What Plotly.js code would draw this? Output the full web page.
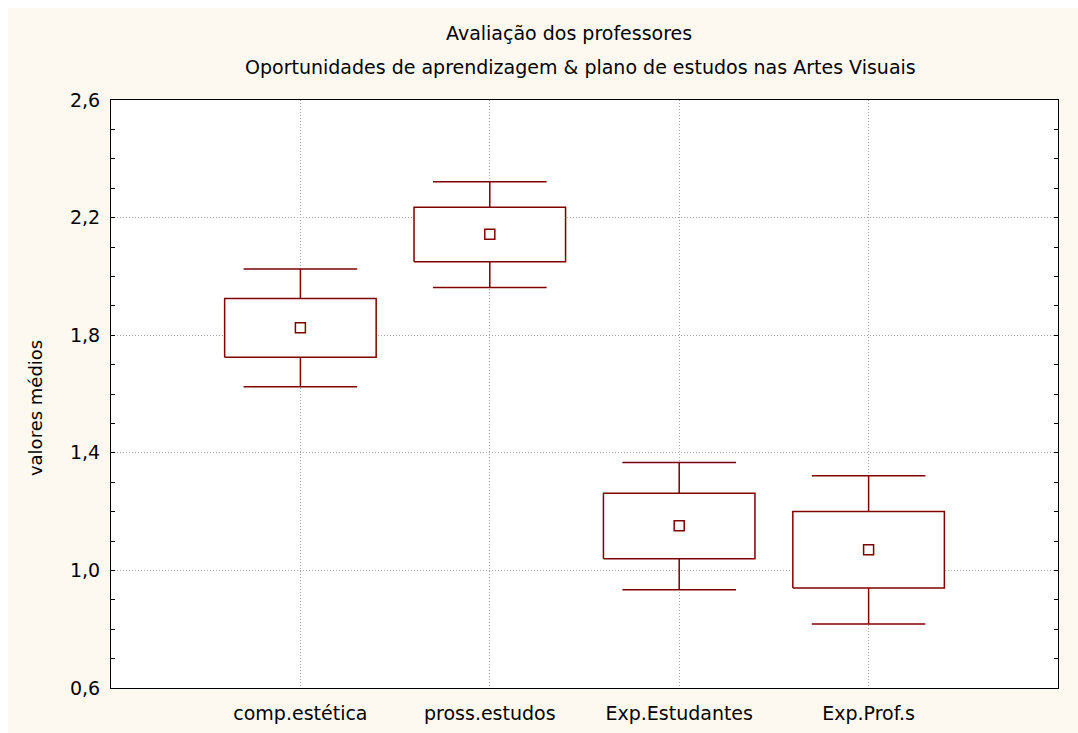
<!DOCTYPE html>
<html>
<head>
<meta charset="utf-8">
<script src="https://cdn.plot.ly/plotly-3.0.1.min.js"></script>
<style>
html,body{margin:0;padding:0;background:#ffffff;width:1078px;height:733px;overflow:hidden;}
#chart{position:absolute;left:8px;top:8px;width:1070px;height:725px;}
</style>
</head>
<body>
<div id="chart"></div>
<script>
const categories = ['comp.estética', 'pross.estudos', 'Exp.Estudantes', 'Exp.Prof.s'];
const means      = [1.825, 2.143, 1.152, 1.070];
const boxLow     = [1.725, 2.050, 1.040, 0.940];
const boxHigh    = [1.925, 2.235, 1.262, 1.200];
const whiskLow   = [1.625, 1.962, 0.934, 0.818];
const whiskHigh  = [2.025, 2.322, 1.367, 1.322];
const yTickVals  = [0.6, 1.0, 1.4, 1.8, 2.2, 2.6];
const yTickText  = ['0,6', '1,0', '1,4', '1,8', '2,2', '2,6'];

const red = '#800000';
const font = 'DejaVu Sans, Liberation Sans, Arial, sans-serif';
const boxHalf = 0.4;
const capHalf = 0.3;
const catIdx = categories.map((c, i) => i);

const traces = [];
categories.forEach((c, i) => {
  traces.push({
    type: 'scatter', mode: 'lines',
    x: [i, i, null, i - capHalf, i + capHalf, null, i, i, null, i - capHalf, i + capHalf],
    y: [boxHigh[i], whiskHigh[i], null, whiskHigh[i], whiskHigh[i], null,
        boxLow[i], whiskLow[i], null, whiskLow[i], whiskLow[i]],
    line: {color: red, width: 1.5},
    connectgaps: false,
    hoverinfo: 'skip', showlegend: false
  });
  traces.push({
    type: 'scatter', mode: 'lines',
    x: [i - boxHalf, i + boxHalf, i + boxHalf, i - boxHalf, i - boxHalf],
    y: [boxLow[i], boxLow[i], boxHigh[i], boxHigh[i], boxLow[i]],
    fill: 'toself', fillcolor: '#ffffff',
    line: {color: red, width: 1.5},
    hoverinfo: 'skip', showlegend: false
  });
});

traces.push({
  type: 'scatter',
  mode: 'markers',
  x: catIdx,
  y: means,
  marker: {symbol: 'square-open', size: 10, color: red, line: {color: red, width: 1.5}},
  hoverinfo: 'skip',
  showlegend: false
});

const layout = {
  width: 1070,
  height: 725,
  margin: {l: 103, r: 20, t: 92, b: 45},
  paper_bgcolor: '#fdf9f0',
  plot_bgcolor: '#ffffff',
  font: {family: font, size: 19, color: '#000000'},
  showlegend: false,
  xaxis: {
    range: [-1, 4],
    tickvals: catIdx,
    ticktext: categories,
    showgrid: true,
    gridcolor: '#a8a8a8',
    gridwidth: 1,
    griddash: '1px,2px',
    showline: true,
    linecolor: '#000000',
    linewidth: 1,
    mirror: true,
    ticks: '',
    tickfont: {family: font, size: 19, color: '#000000'},
    ticklabelstandoff: 8,
    zeroline: false,
    fixedrange: true
  },
  yaxis: {
    range: [0.6, 2.6],
    tickvals: yTickVals,
    ticktext: yTickText,
    showgrid: true,
    gridcolor: '#a8a8a8',
    gridwidth: 1,
    griddash: '1px,2px',
    showline: true,
    linecolor: '#000000',
    linewidth: 1,
    mirror: 'ticks',
    ticks: 'inside',
    ticklen: 4,
    tickcolor: '#000000',
    minor: {dtick: 0.1, tick0: 0.6, ticks: 'inside', ticklen: 4, tickcolor: '#000000', showgrid: false},
    tickfont: {family: font, size: 19, color: '#000000'},
    ticklabelstandoff: 6,
    zeroline: false,
    fixedrange: true
  },
  annotations: [
    {text: 'Avaliação dos professores', xref: 'paper', yref: 'paper', x: 0.4836, y: 1.114,
     xanchor: 'center', yanchor: 'middle', showarrow: false, font: {family: font, size: 19, color: '#000000'}},
    {text: 'Oportunidades de aprendizagem &amp; plano de estudos nas Artes Visuais', xref: 'paper', yref: 'paper', x: 0.4963, y: 1.056,
     xanchor: 'center', yanchor: 'middle', showarrow: false, font: {family: font, size: 19, color: '#000000'}},
    {text: 'valores médios', xref: 'paper', yref: 'paper', x: -0.0803, y: 0.476, textangle: -90,
     xanchor: 'center', yanchor: 'middle', showarrow: false, font: {family: font, size: 18, color: '#000000'}}
  ]
};

Plotly.newPlot('chart', traces, layout, {displayModeBar: false, staticPlot: true});
</script>
</body>
</html>
